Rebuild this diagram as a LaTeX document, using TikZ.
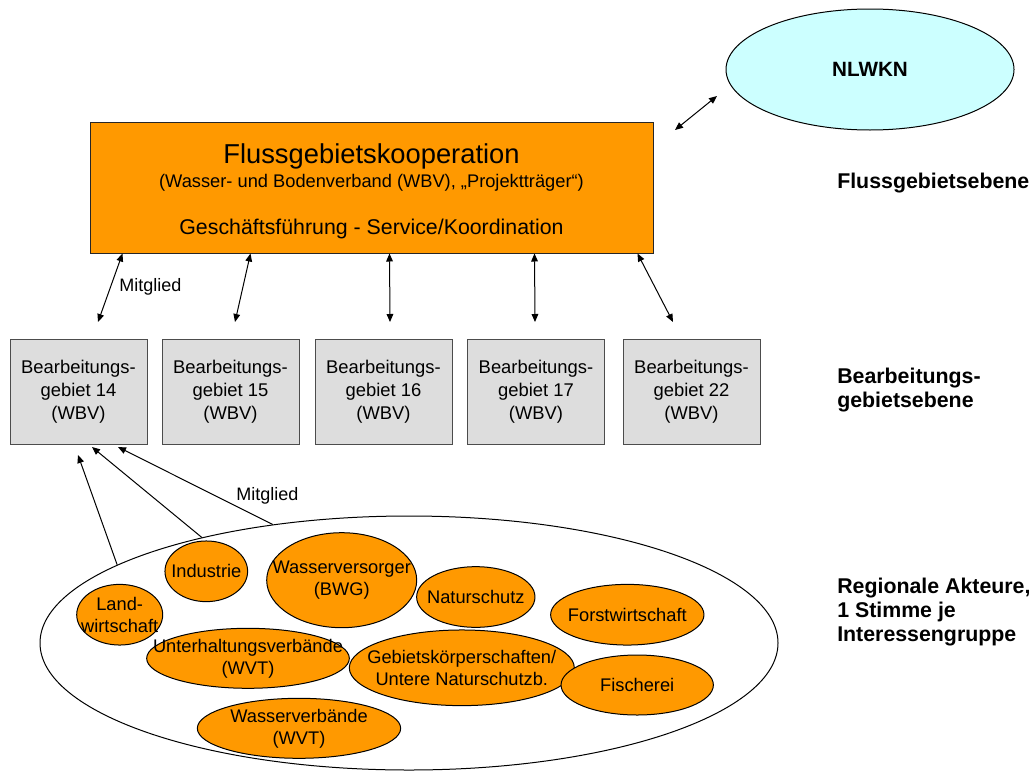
\documentclass[tikz,border=0pt]{standalone}
\usepackage{fontspec}
\setmainfont{Liberation Sans}
\usetikzlibrary{arrows.meta,shapes.geometric}
\definecolor{fgorange}{HTML}{FF9900}
\definecolor{boxgray}{HTML}{DDDDDD}
\definecolor{nlcyan}{HTML}{CCFFFF}
\begin{document}
\begin{tikzpicture}[x=0.75pt,y=-0.75pt,
  fgbox/.style={draw=black!85, fill=fgorange, line width=0.75pt, minimum width=422.25pt, minimum height=98.25pt, inner sep=0},
  bgbox/.style={draw=black!70, fill=boxgray, line width=0.75pt, minimum width=102.75pt, minimum height=78.75pt, inner sep=0, align=center, font=\fontsize{13.8pt}{17.25pt}\selectfont},
  ell/.style={ellipse, draw=black, fill=fgorange, line width=0.75pt, inner sep=0},
  etext/.style={align=center, font=\fontsize{13.7pt}{16.5pt}\selectfont, inner sep=0},
  lvl/.style={font=\bfseries\fontsize{16pt}{18pt}\selectfont, align=left, inner sep=0},
  lab/.style={font=\fontsize{13.5pt}{16pt}\selectfont, inner sep=0},
  dbl/.style={{Triangle[length=6pt,width=5pt]}-{Triangle[length=6pt,width=5pt]}, line width=0.75pt},
  one/.style={-{Triangle[length=6pt,width=5pt]}, line width=0.75pt}
]
\useasboundingbox (0,0) rectangle (1034,771);

% NLWKN
\node[ellipse, draw=black, fill=nlcyan, line width=0.75pt, inner sep=0, minimum width=216pt, minimum height=90.75pt, font=\bfseries\fontsize{15.5pt}{18pt}\selectfont] (nlwkn) at (870,69.5) {NLWKN};

% Flussgebietskooperation
\node[fgbox] (fgk) at (371.5,187.5) {};
\node[anchor=base, inner sep=0, font=\fontsize{20.5pt}{24pt}\selectfont] (fgkT) at (371.5,163) {Flussgebietskooperation};
\node[anchor=base, inner sep=0, font=\fontsize{13.7pt}{16pt}\selectfont] (fgkS) at (371.5,187) {(Wasser- und Bodenverband (WBV), „Projektträger“)};
\node[anchor=base, inner sep=0, font=\fontsize{16pt}{19pt}\selectfont] (fgkG) at (371.5,234) {Geschäftsführung - Service/Koordination};

% Bearbeitungsgebiete
\node[bgbox] (b14) at (78.5,391.5) {Bearbeitungs-\\gebiet 14\\(WBV)};
\node[bgbox] (b15) at (230.5,391.5) {Bearbeitungs-\\gebiet 15\\(WBV)};
\node[bgbox] (b16) at (383.5,391.5) {Bearbeitungs-\\gebiet 16\\(WBV)};
\node[bgbox] (b17) at (536,391.5) {Bearbeitungs-\\gebiet 17\\(WBV)};
\node[bgbox] (b22) at (691.5,391.5) {Bearbeitungs-\\gebiet 22\\(WBV)};

% arrows top
\coordinate (t1) at (98,322);
\coordinate (t2) at (235,322);
\coordinate (t3) at (390,322);
\coordinate (t4) at (535,322);
\coordinate (t5) at (673,322);
\draw[dbl] ([xshift=24.75pt]fgk.south west) -- (t1);
\draw[dbl] ([xshift=120.75pt]fgk.south west) -- (t2);
\draw[dbl] ([xshift=225pt]fgk.south west) -- (t3);
\draw[dbl] ([xshift=333.75pt]fgk.south west) -- (t4);
\draw[dbl] ([xshift=411pt]fgk.south west) -- (t5);
\node[lab] (m1) at (150.5,287) {Mitglied};

\coordinate (n1) at (675,130);
\coordinate (n2) at (717,96);
\draw[dbl] (n1) -- (n2);

% level labels
\node[lvl, anchor=base west] (l1) at (837,188) {Flussgebietsebene};
\node[lvl, anchor=west] (l2) at (837,390.5) {Bearbeitungs-\\gebietsebene};
\node[lvl, anchor=west] (l3) at (837,612) {Regionale Akteure,\\1 Stimme je\\Interessengruppe};

% regional actors
\node[ellipse, draw=black, line width=0.75pt, inner sep=0, minimum width=553.5pt, minimum height=190.5pt] (akt) at (409,643) {};

\node[ell, minimum width=64.5pt, minimum height=45.5pt] (land) at (119.7,614.7) {};
\node[etext] (landT) at (land) {Land-\\wirtschaft};
\node[ell, minimum width=62pt, minimum height=45.5pt] (ind) at (206.3,571.3) {};
\node[etext] (indT) at (ind) {Industrie};
\node[ell, minimum width=112.5pt, minimum height=71.25pt] (wv) at (341.7,580.2) {};
\node[etext] (wvT) at (wv) {Wasserversorger\\(BWG)};
\node[ell, minimum width=88.75pt, minimum height=45.5pt] (nat) at (475.8,597) {};
\node[etext] (natT) at (nat) {Naturschutz};
\node[ell, minimum width=115pt, minimum height=45.5pt] (forst) at (627.3,614.7) {};
\node[etext] (forstT) at (forst) {Forstwirtschaft};
\node[ell, minimum width=152pt, minimum height=45pt] (unt) at (248,658.3) {};
\node[etext] (untT) at (unt) {Unterhaltungsverbände\\(WVT)};
\node[ell, minimum width=168.75pt, minimum height=56.75pt] (geb) at (461.8,667.8) {};
\node[etext] (gebT) at (geb) {Gebietskörperschaften/\\Untere Naturschutzb.};
\node[ell, minimum width=114.25pt, minimum height=45pt] (fisch) at (637.2,685) {};
\node[etext] (fischT) at (fisch) {Fischerei};
\node[ell, minimum width=152.5pt, minimum height=45pt] (wvb) at (299,728.3) {};
\node[etext] (wvbT) at (wvb) {Wasserverbände\\(WVT)};

% arrows up to BG 14
\coordinate (u1) at (78,455);
\coordinate (u2) at (92,447);
\coordinate (u3) at (118,447);
\draw[one] (akt.165.2) -- (u1);
\draw[one] (akt.153.4) -- (u2);
\draw[one] (akt.139.2) -- (u3);
\node[lab] (m2) at (267.5,496) {Mitglied};
\end{tikzpicture}
\end{document}
